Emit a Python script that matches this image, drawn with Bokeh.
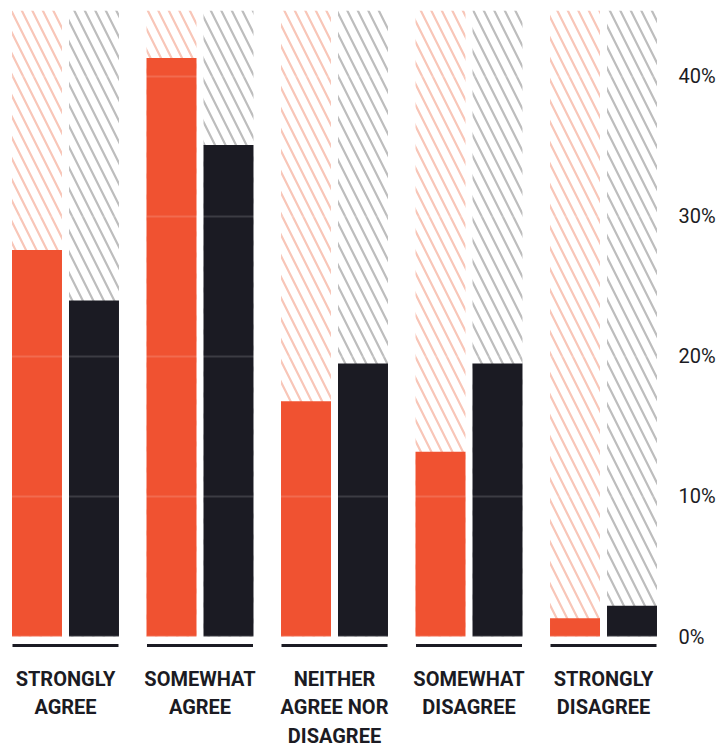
from bokeh.plotting import figure
from bokeh.models import FactorRange, FixedTicker, PrintfTickFormatter, Range1d
from bokeh.core.properties import value
from bokeh.embed import file_html
from bokeh.resources import INLINE

groups = ["STRONGLY\nAGREE", "SOMEWHAT\nAGREE", "NEITHER\nAGREE NOR\nDISAGREE",
          "SOMEWHAT\nDISAGREE", "STRONGLY\nDISAGREE"]
series = ["A", "B"]
values_a = [27.6, 41.3, 16.8, 13.2, 1.3]
values_b = [24.0, 35.1, 19.5, 19.5, 2.2]
y_ticks = [0, 10, 20, 30, 40]

ORANGE = "#f05231"
DARK = "#1b1b23"
PINK = "#f8c6b8"
GREY = "#bdbdbd"
Y_TOP = 44.7
Y_BOTTOM = -8.21
FONT = "Roboto"

factors = [(g, s) for g in groups for s in series]
xr = FactorRange(*factors, group_padding=0.36, factor_padding=0.0, range_padding=0.0)

p = figure(x_range=xr, y_range=Range1d(Y_BOTTOM, Y_TOP), frame_width=652, frame_height=741,
           output_backend="svg", toolbar_location=None, x_axis_location=None,
           y_axis_location="right", min_border_left=8, min_border_top=10,
           min_border_bottom=0, min_border_right=50, background_fill_color="white",
           border_fill_color="white", outline_line_color=None)

xa = [(g, "A") for g in groups]
xb = [(g, "B") for g in groups]

# hatched background bars
p.vbar(x=xa, top=[Y_TOP] * len(groups), bottom=0, width=0.877, fill_color=None,
       line_color=None, hatch_pattern="\\", hatch_color=PINK, hatch_weight=2.2, hatch_scale=21)
p.vbar(x=xb, top=[Y_TOP] * len(groups), bottom=0, width=0.877, fill_color=None,
       line_color=None, hatch_pattern="\\", hatch_color=GREY, hatch_weight=2.2, hatch_scale=21)

# value bars
p.vbar(x=xa, top=values_a, bottom=0, width=0.877, fill_color=ORANGE, line_color=None)
p.vbar(x=xb, top=values_b, bottom=0, width=0.877, fill_color=DARK, line_color=None)

# underline per group
p.rect(x=groups, y=-0.64, width=1.86, height=3, height_units="screen",
       fill_color=DARK, line_color=None)

# group labels
p.text(x=groups, y=0, text=groups, y_offset=30, text_align="center", text_baseline="top",
       text_font=value(FONT), text_font_style="bold",
       text_font_size="20px", text_color=DARK, text_line_height=1.2)

p.xgrid.visible = False
p.ygrid.ticker = FixedTicker(ticks=y_ticks)
p.ygrid.grid_line_color = "white"
p.ygrid.grid_line_alpha = 0.15
p.ygrid.grid_line_width = 2
p.ygrid.level = "overlay"

ax = p.yaxis[0]
ax.ticker = FixedTicker(ticks=y_ticks)
ax.formatter = PrintfTickFormatter(format="%d%%")
ax.axis_line_color = None
ax.major_tick_line_color = None
ax.minor_tick_line_color = None
ax.major_label_standoff = 12
ax.major_label_text_font = FONT
ax.major_label_text_font_size = "20px"
ax.major_label_text_color = DARK

open("out.html", "w").write(file_html(p, INLINE))
